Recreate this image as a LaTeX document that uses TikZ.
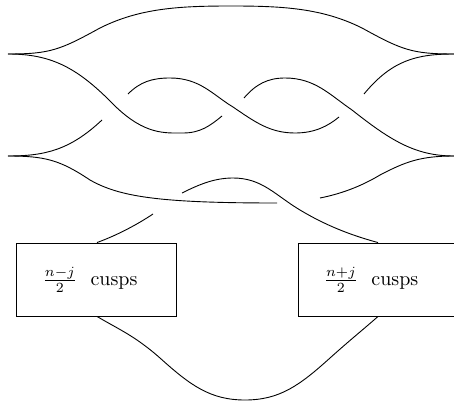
\documentclass[tikz,border=0pt]{standalone}
\begin{document}
\begin{tikzpicture}[x=0.5pt,y=-0.5pt,
  strand/.style={line width=0.45pt},
  cuspbox/.style={draw,line width=0.45pt,rectangle,minimum width=80pt,minimum height=36.5pt,inner sep=0pt},
  lbl/.style={inner sep=0pt}]
\clip (0,0) rectangle (454,401);
% boxes
\node[cuspbox] (L) at (96,279.5) {};
\node[cuspbox] (R) at (378,279.5) {};
\node[lbl] (Lt) at (90,280) {$\frac{n-j}{2}$\ \ cusps};
\node[lbl] (Rt) at (371,280) {$\frac{n+j}{2}$\ \ cusps};
% top strand (upper cusps, upper branch)
\draw[strand] (8,54) .. controls (50,54) and (60,50) .. (100,28)
  .. controls (140,8) and (180,6) .. (231,6)
  .. controls (282,6) and (322,8) .. (362,28)
  .. controls (402,50) and (412,54) .. (454,54);
% braid strands
\draw[strand] (8,54) .. controls (52,54) and (78,68) .. (115,106)
  .. controls (145,135) and (165,133) .. (183,133)
  .. controls (200,133) and (210,126) .. (222,116);
\draw[strand] (8,156) .. controls (45,156) and (70,150) .. (102,120);
\draw[strand] (128,94) .. controls (140,82) and (152,78) .. (170,78)
  .. controls (200,78) and (213,95) .. (233,107)
  .. controls (255,122) and (270,133) .. (295,133)
  .. controls (315,133) and (328,126) .. (339,117);
\draw[strand] (244,98) .. controls (256,84) and (268,78) .. (285,78)
  .. controls (315,78) and (330,95) .. (352,110)
  .. controls (390,140) and (415,156) .. (454,156);
\draw[strand] (454,54) .. controls (417,54) and (392,60) .. (364,94);
% lower part
\draw[strand] (8,156) .. controls (45,156) and (60,160) .. (90,180)
  .. controls (120,197) and (160,203) .. (277,203);
\draw[strand] (182,193) .. controls (200,184) and (215,178) .. (233,178)
  .. controls (262,178) and (275,195) .. (300,210)
  .. controls (325,225) and (350,235) .. (R.north);
\draw[strand] (454,156) .. controls (420,156) and (405,162) .. (380,175)
  .. controls (360,187) and (340,194) .. (320,198);
\draw[strand] ([xshift=0.5pt]L.north) .. controls (115,236) and (135,226) .. (153,214);
\draw[strand] ([xshift=0.5pt]L.south) .. controls (120,330) and (135,336) .. (160,358)
  .. controls (190,385) and (210,400) .. (245,400)
  .. controls (280,400) and (300,385) .. (330,358)
  .. controls (350,340) and (365,328) .. (R.south);
\end{tikzpicture}
\end{document}
